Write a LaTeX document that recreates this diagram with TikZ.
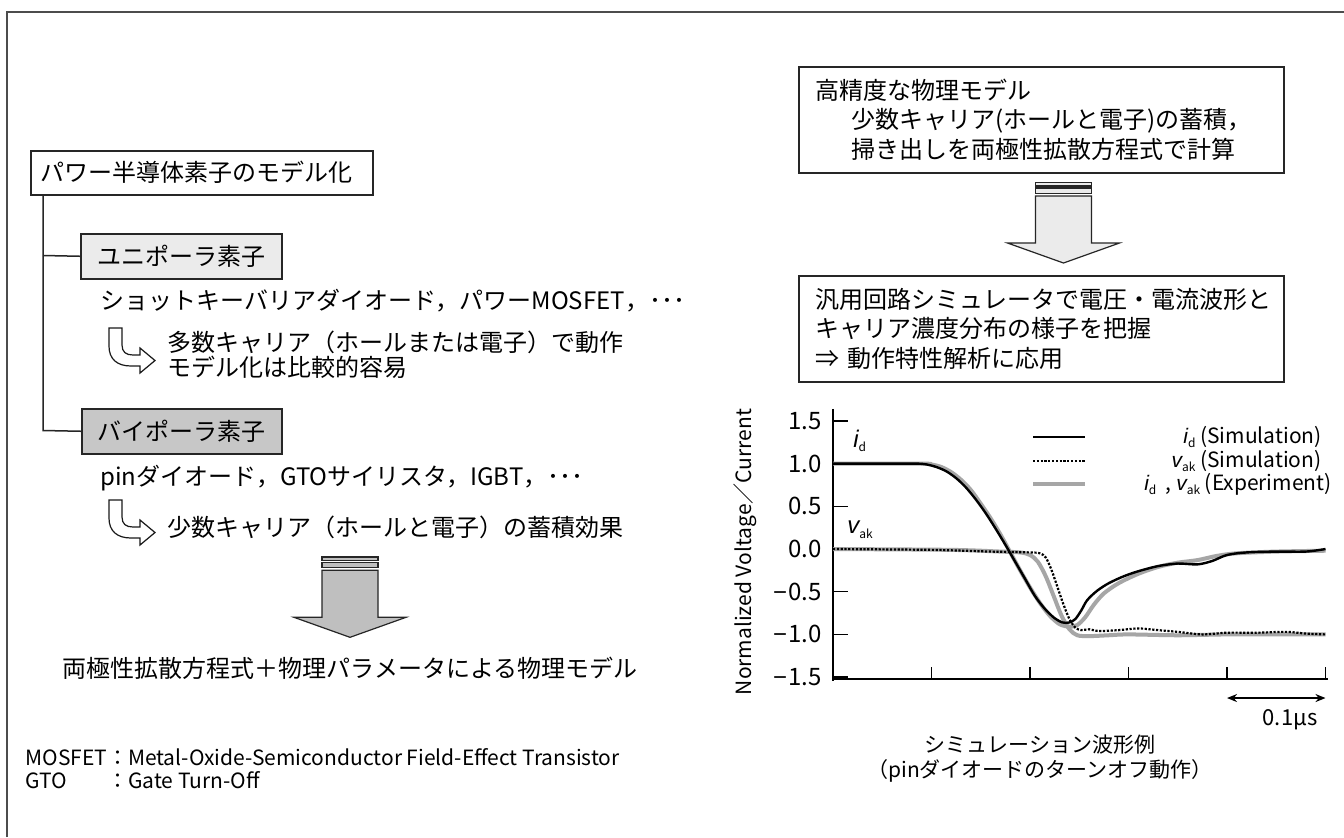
\documentclass[tikz,border=0pt]{standalone}
\usepackage{fontspec}
\setmainfont{Noto Sans CJK JP}
\newfontfamily\lib{Liberation Sans}
\usetikzlibrary{arrows.meta}
\newcommand{\myfs}[2]{\fontsize{#1}{#2}\selectfont}
\newcommand{\mysym}[2]{{\lib\itshape #1}\raisebox{-0.35ex}{\myfs{6pt}{6pt}#2}}
\newcommand{\mymin}{{\lib −}\hspace{0.05em}}
\newcommand{\myblockarrow}[2]{%
  \begin{scope}[shift={(#1)}]
    \draw[barrow, fill=#2] (-28,0) rectangle (28,3.3);
    \draw[barrow, fill=#2] (-28,5.2) rectangle (28,10.8);
    \draw[barrow, fill=#2] (-28,13.3) -- (28,13.3) -- (28,60.3) -- (56,60.3) -- (0,80.3) -- (-56,60.3) -- (-28,60.3) -- cycle;
  \end{scope}}
\newcommand{\myhook}[1]{%
  \begin{scope}[shift={(#1)}]
    \draw[hookline] (0,0) -- (13,0) -- (13,17) .. controls (13,24) and (17,27) .. (24,27) -- (31,27) -- (31,20) -- (46,32.5) -- (31,45) -- (31,38) -- (22,38) .. controls (8,38) and (0,31) .. (0,18) -- cycle;
  \end{scope}}
\tikzset{
  frameline/.style={line width=1pt, draw=black!70},
  boxline/.style={draw=black!85, line width=0.75pt},
  treeline/.style={draw=black!85, line width=0.75pt},
  barrow/.style={draw=black!85, line width=0.6pt},
  hookline/.style={draw=black!90, line width=0.6pt, fill=white, line join=miter},
  txt/.style={font=\myfs{12pt}{12.5pt}, inner sep=0pt},
  captxt/.style={font=\myfs{10.5pt}{13pt}, inner sep=0pt},
  fn/.style={font=\myfs{10.5pt}{9.5pt}, inner sep=0pt},
  ticklab/.style={font=\myfs{12pt}{12pt}, inner sep=0pt, anchor=east},
  legtxt/.style={font=\myfs{10.5pt}{10.5pt}, inner sep=0pt, anchor=east},
  axisline/.style={draw=black, line width=0.75pt},
  simline/.style={draw=black, line width=1.2pt},
  simdot/.style={draw=black, line width=1.1pt, dash pattern=on 1.1pt off 0.8pt},
  expline/.style={draw=black!35, line width=2pt},
}
\begin{document}
\begin{tikzpicture}[x=0.5pt, y=-0.5pt]
\useasboundingbox (0,0) rectangle (1344,837);
\fill[white] (0,0) rectangle (1344,837);
% outer frame
\coordinate (fA) at (7,837);
\coordinate (fB) at (7,12);
\coordinate (fC) at (1344,12);
\draw[frameline] (fA) -- (fB) -- (fC);

% ---------------- left tree ----------------
\node[boxline, draw, anchor=north west, text width=161pt, inner xsep=5pt, inner ysep=0pt,
      minimum height=22pt, align=left, font=\myfs{12pt}{12.5pt}] (root) at (30,150) {パワー半導体素子のモデル化};
\node[boxline, draw, fill=black!8, anchor=north west, minimum width=100.5pt, minimum height=22.5pt,
      inner sep=0pt, font=\myfs{12pt}{12.5pt}] (uni) at (80,233) {ユニポーラ素子};
\node[boxline, draw, fill=black!22, anchor=north west, minimum width=100pt, minimum height=22.5pt,
      inner sep=0pt, font=\myfs{12pt}{12.5pt}] (bi) at (81,408) {バイポーラ素子};

\coordinate (trTop) at (43,194);
\coordinate (trU) at (43,255.5);
\coordinate (trB) at (43,430.5);
\draw[treeline] (trTop) -- (trB) -- (bi.west);
\draw[treeline] (trU) -- (uni.west);

\node[txt, anchor=west] (uniex) at (100,301) {ショットキーバリアダイオード，パワーMOSFET，･･･};
\coordinate (hk1) at (109,328);
\myhook{hk1}
\node[txt, anchor=west, align=left] (unid) at (167,355) {多数キャリア（ホールまたは電子）で動作\\モデル化は比較的容易};

\node[txt, anchor=west] (biex) at (100,478) {pinダイオード，GTOサイリスタ，IGBT，･･･};
\coordinate (hk2) at (109,500);
\myhook{hk2}
\node[txt, anchor=west] (bid) at (167,527) {少数キャリア（ホールと電子）の蓄積効果};

\coordinate (baL) at (350,557);
\myblockarrow{baL}{black!25}
\node[txt] (res) at (350,668) {両極性拡散方程式＋物理パラメータによる物理モデル};

\node[fn, anchor=north west, align=left] (note) at (25,748) {%
\begin{tabular}{@{}l@{}l@{}}
MOSFET & ：Metal-Oxide-Semiconductor Field-Effect Transistor\\
GTO & ：Gate Turn-Off
\end{tabular}};

% ---------------- right column ----------------
\node[boxline, draw, anchor=north west, text width=225.5pt, inner xsep=8.5pt, inner ysep=0pt,
      minimum height=53pt, align=left, font=\myfs{12pt}{14.75pt}] (hp) at (798,66)
 {高精度な物理モデル\\\hspace*{1.5em}少数キャリア(ホールと電子)の蓄積，\\\hspace*{1.5em}掃き出しを両極性拡散方程式で計算};

\coordinate (baR) at (1063.5,182.7);
\myblockarrow{baR}{black!8}

\node[boxline, draw, anchor=north west, text width=225.5pt, inner xsep=8.5pt, inner ysep=0pt,
      minimum height=53pt, align=left, font=\myfs{12pt}{14.75pt}] (gen) at (798,275)
 {汎用回路シミュレータで電圧・電流波形と\\キャリア濃度分布の様子を把握\\⇒ 動作特性解析に応用};

% ---------------- graph ----------------
\coordinate (O) at (833,549);
\begin{scope}[shift={(O)}, x=49.25pt, y=42.7pt]
  \coordinate (yTop) at (0,1.64);
  \coordinate (yBot) at (0,-1.55);
  \coordinate (xL) at (0,-1.522);
  \coordinate (xR) at (5.03,-1.522);
  \draw[axisline] (yTop) -- (yBot);
  \draw[axisline] (xL) -- (xR);
  \foreach \v/\lab [count=\i] in {1.5/1.5, 1/1.0, 0.5/0.5, 0/0.0, -0.5/\mymin 0.5, -1/\mymin 1.0, -1.5/\mymin 1.5} {
    \draw[axisline] (0,\v) -- (0.15,\v);
    \node[ticklab] (yl\i) at (-0.11,\v) {\lab};
  }
  \foreach \t in {1,...,5} {
    \draw[axisline] (\t,-1.522) -- (\t,-1.38);
  }
  % experiment (gray)
  \draw[expline] plot[smooth, tension=0.5] coordinates {(0,1.0) (0.9,1.0) (1.0,0.99) (1.1,0.96) (1.2,0.9) (1.3,0.81) (1.4,0.69) (1.5,0.53) (1.6,0.36) (1.7,0.17) (1.8,-0.04) (1.9,-0.25) (2.0,-0.45) (2.1,-0.63) (2.2,-0.78) (2.3,-0.88) (2.4,-0.91) (2.48,-0.89) (2.56,-0.80) (2.65,-0.65) (2.75,-0.52) (2.9,-0.40) (3.1,-0.29) (3.3,-0.21) (3.5,-0.16) (3.7,-0.13) (3.9,-0.08) (4.1,-0.05) (4.5,-0.03) (5.0,-0.02)};
  \draw[expline] plot[smooth, tension=0.5] coordinates {(0,0) (1.2,-0.01) (1.7,-0.03) (1.9,-0.04) (2.0,-0.07) (2.08,-0.15) (2.16,-0.32) (2.24,-0.55) (2.32,-0.78) (2.40,-0.94) (2.48,-1.01) (2.6,-1.02) (2.8,-1.01) (3.0,-1.0) (3.5,-1.01) (4.0,-1.0) (4.5,-1.0) (5.0,-1.0)};
  % simulation i_d
  \draw[simline] plot[smooth, tension=0.5] coordinates {(0,1.0) (0.3,1.0) (0.6,1.0) (0.85,1.0) (0.95,0.99) (1.05,0.96) (1.15,0.91) (1.25,0.83) (1.35,0.72) (1.45,0.58) (1.55,0.42) (1.65,0.24) (1.75,0.05) (1.85,-0.15) (1.95,-0.35) (2.05,-0.55) (2.15,-0.70) (2.25,-0.81) (2.33,-0.86) (2.40,-0.86) (2.46,-0.82) (2.52,-0.72) (2.58,-0.60) (2.68,-0.49) (2.8,-0.40) (2.95,-0.32) (3.1,-0.26) (3.3,-0.20) (3.5,-0.17) (3.7,-0.18) (3.85,-0.14) (4.0,-0.07) (4.2,-0.04) (4.5,-0.03) (4.8,-0.03) (5.0,0.0)};
  % simulation v_ak
  \draw[simdot] plot[smooth, tension=0.5] coordinates {(0,0) (1.0,-0.01) (1.6,-0.03) (2.0,-0.04) (2.1,-0.05) (2.16,-0.1) (2.22,-0.25) (2.28,-0.45) (2.34,-0.65) (2.40,-0.82) (2.46,-0.92) (2.52,-0.95) (2.6,-0.94) (2.7,-0.96) (2.9,-0.95) (3.1,-0.93) (3.3,-0.95) (3.5,-0.97) (3.75,-1.0) (4.0,-0.98) (4.3,-0.98) (4.6,-0.97) (4.8,-0.99) (5.0,-1.0)};
  % scale bar
  \coordinate (sb1) at (4,-1.745);
  \coordinate (sb2) at (5,-1.745);
  \draw[line width=0.9pt, {Stealth[length=5pt,width=4pt]}-{Stealth[length=5pt,width=4pt]}] (sb1) -- (sb2);
\end{scope}
\node[font=\myfs{11pt}{11pt}, inner sep=0pt] (sbl) at (1290,720) {0.1μs};

\node[font=\myfs{10.5pt}{10.5pt}, inner sep=0pt, rotate=90, anchor=base] (ylab) at (751,552) {Normalized Voltage／Current};
\node[font=\myfs{12pt}{12pt}, inner sep=0pt, anchor=west] (lid) at (853,441) {\mysym{i}{d}};
\node[font=\myfs{12pt}{12pt}, inner sep=0pt, anchor=west] (lvak) at (847,530) {\mysym{v}{ak}};

% legend
\coordinate (lg1a) at (1033,437); \coordinate (lg1b) at (1085,437);
\coordinate (lg2a) at (1033,461); \coordinate (lg2b) at (1085,461);
\coordinate (lg3a) at (1033,484); \coordinate (lg3b) at (1085,484);
\draw[simline] (lg1a) -- (lg1b);
\draw[simdot] (lg2a) -- (lg2b);
\draw[expline] (lg3a) -- (lg3b);
\node[legtxt] (lt1) at (1322,437) {\mysym{i}{d} (Simulation)};
\node[legtxt] (lt2) at (1322,461) {\mysym{v}{ak} (Simulation)};
\node[legtxt] (lt3) at (1332,484) {\mysym{i}{d}\ \ , \mysym{v}{ak} (Experiment)};

\node[captxt] (cap1) at (1040,745) {シミュレーション波形例};
\node[captxt] (cap2) at (1040,771) {（pinダイオードのターンオフ動作）};
\end{tikzpicture}
\end{document}
